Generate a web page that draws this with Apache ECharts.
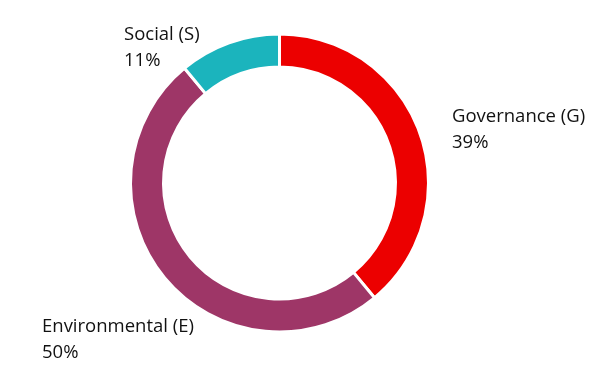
<!DOCTYPE html>
<html><head><meta charset="utf-8">
<script src="https://cdn.jsdelivr.net/npm/echarts@6/dist/echarts.min.js"></script>
<style>html,body{margin:0;padding:0;background:#fff}#c{width:607px;height:388px}</style>
</head><body><div id="c"></div>
<script>
const categories = ['Governance (G)', 'Environmental (E)', 'Social (S)'];
const values = [39, 50, 11];
const colors = ['#EC0000', '#9E3667', '#1BB4BD'];
const labelPos = [[452, 104], [42, 314], [124, 22]];

const chart = echarts.init(document.getElementById('c'), null, {renderer: 'canvas'});
chart.setOption({
  animation: false,
  series: [{
    type: 'pie',
    center: [279.5, 183],
    radius: [116, 149],
    startAngle: 90,
    clockwise: true,
    itemStyle: {borderColor: '#fff', borderWidth: 3},
    label: {
      show: true,
      position: 'outside',
      formatter: p => p.name + '\n' + p.value + '%',
      fontFamily: 'Open Sans',
      fontSize: 18.5,
      lineHeight: 26,
      color: '#111',
      align: 'left',
      overflow: 'none',
      width: 300
    },
    labelLine: {show: false},
    labelLayout: p => ({x: labelPos[p.dataIndex][0], y: labelPos[p.dataIndex][1], align: 'left', verticalAlign: 'top', width: 300}),
    data: categories.map((n, i) => ({name: n, value: values[i], itemStyle: {color: colors[i]}}))
  }]
});
</script></body></html>
